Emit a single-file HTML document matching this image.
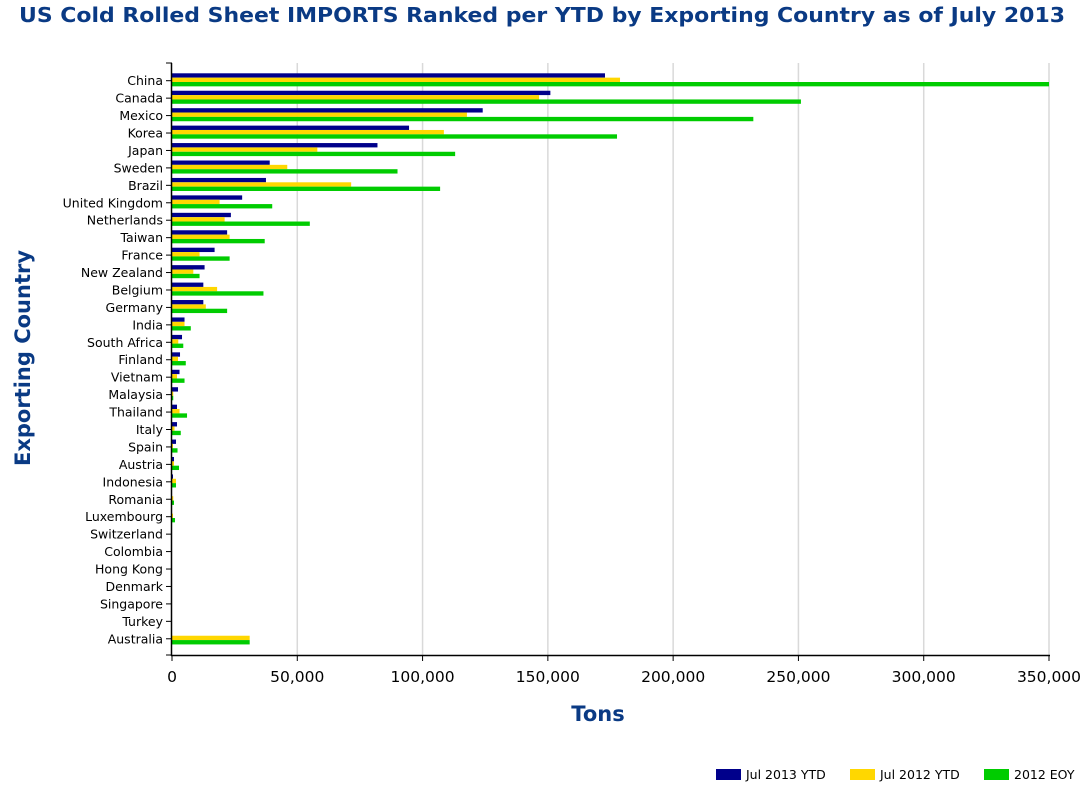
<!DOCTYPE html>
<html><head><meta charset="utf-8"><style>
html,body{margin:0;padding:0;background:#fff;width:1092px;height:786px;overflow:hidden}
svg{display:block;font-family:"DejaVu Sans","Liberation Sans",sans-serif}
</style></head><body>
<svg id="c" width="1092" height="786" xmlns="http://www.w3.org/2000/svg">
<text x="542" y="22" text-anchor="middle" font-size="20" font-weight="bold" fill="#0a3a84" textLength="1046" lengthAdjust="spacingAndGlyphs">US Cold Rolled Sheet IMPORTS Ranked per YTD by Exporting Country as of July 2013</text>
<text transform="translate(30,358) rotate(-90)" text-anchor="middle" font-size="21" font-weight="bold" fill="#0a3a84">Exporting Country</text>
<text x="598" y="721" text-anchor="middle" font-size="21" font-weight="bold" fill="#0a3a84">Tons</text>
<g id="g"></g>
<rect x="716" y="769" width="25" height="11" fill="#00008b"/>
<text x="746" y="779" font-size="12.5" fill="#000">Jul 2013 YTD</text>
<rect x="850" y="769" width="25" height="11" fill="#ffd700"/>
<text x="880" y="779" font-size="12.5" fill="#000">Jul 2012 YTD</text>
<rect x="984" y="769" width="25" height="11" fill="#00cc00"/>
<text x="1014" y="779" font-size="12.5" fill="#000">2012 EOY</text>
</svg>
<script>
var d=[["China",172.8,178.8,350],["Canada",151,146.5,251],["Mexico",124,117.7,232],["Korea",94.6,108.5,177.6],["Japan",82,58,113],["Sweden",39,46,90],["Brazil",37.5,71.5,107],["United Kingdom",28,19,40],["Netherlands",23.5,21,55],["Taiwan",22,23,37],["France",17,11,23],["New Zealand",13,8.5,11],["Belgium",12.5,18,36.5],["Germany",12.5,13.5,22],["India",5,5,7.5],["South Africa",4,2.5,4.5],["Finland",3.2,2.4,5.5],["Vietnam",3,2,5],["Malaysia",2.4,0.5,0.5],["Thailand",2,3,6],["Italy",2,1,3.5],["Spain",1.6,0.4,2.2],["Austria",0.8,0.8,2.8],["Indonesia",0.4,1.6,1.6],["Romania",0,0.5,0.8],["Luxembourg",0,0.4,1.2],["Switzerland",0,0,0],["Colombia",0,0,0],["Hong Kong",0,0,0],["Denmark",0,0,0],["Singapore",0,0,0],["Turkey",0,0,0],["Australia",0,31,31]];
var s="",X0=172,k=877/350,sp=17.44;
for(var i=0;i<=7;i++){var x=X0+i*50*k;
 if(i>0)s+='<line x1="'+x+'" y1="63" x2="'+x+'" y2="655" stroke="#d9d9d9" stroke-width="1.5"/>';
 s+='<line x1="'+x+'" y1="655" x2="'+x+'" y2="661" stroke="#000"/>';
 s+='<text x="'+x+'" y="682" text-anchor="middle" font-size="15.5" fill="#000">'+(i==0?"0":(i*50)+",000")+'</text>';}
var col=["#00008b","#ffd700","#00cc00"];
for(var j=0;j<d.length;j++){var c=80.7+sp*j;
 s+='<line x1="166" y1="'+c+'" x2="172" y2="'+c+'" stroke="#000"/>';
 s+='<text x="163" y="'+(c+4.5)+'" text-anchor="end" font-size="12.5" fill="#000">'+d[j][0]+'</text>';
 for(var b=0;b<3;b++){var v=d[j][b+1];if(v>0)s+='<rect x="'+X0+'" y="'+(c-7.4+b*4.35)+'" width="'+(v*k)+'" height="4.35" fill="'+col[b]+'"/>';}}
s+='<line x1="166" y1="63" x2="172" y2="63" stroke="#000"/><line x1="166" y1="655" x2="172" y2="655" stroke="#000"/>';
s+='<line x1="171.5" y1="63" x2="171.5" y2="656" stroke="#000" stroke-width="1.5"/><line x1="171" y1="655.5" x2="1050" y2="655.5" stroke="#000" stroke-width="1.5"/>';
document.getElementById("g").innerHTML=s;
</script>
</body></html>
